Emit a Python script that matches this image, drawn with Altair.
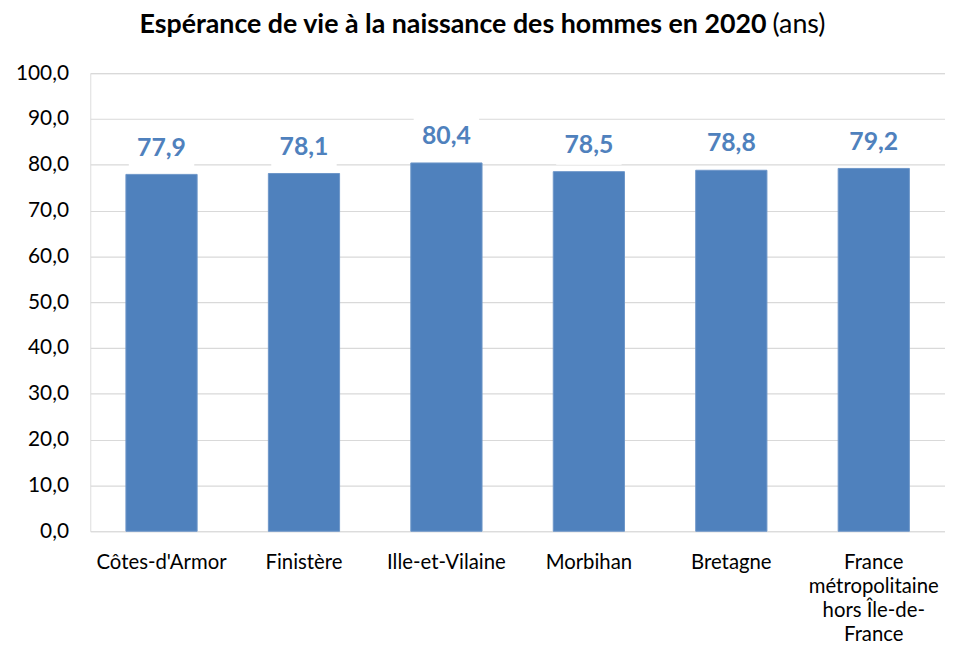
import altair as alt
import pandas as pd

categories = ["Côtes-d'Armor", "Finistère", "Ille-et-Vilaine", "Morbihan", "Bretagne",
              "France métropolitaine hors Île-de-France"]
values = [77.9, 78.1, 80.4, 78.5, 78.8, 79.2]
y_ticks = [0, 10, 20, 30, 40, 50, 60, 70, 80, 90, 100]
title_main = "Espérance de vie à la naissance des hommes en 2020"
title_unit = "(ans)"

df = pd.DataFrame({"cat": categories, "val": values})

FONT = "Lato"
BLUE = "#4F81BD"
W, H = 862, 462

last_lines = "['France','métropolitaine','hors Île-de-','France']"
label_expr = (f"datum.value == '{categories[-1]}' ? {last_lines} : datum.value")

x_enc = alt.X("cat:N", sort=categories, title=None,
              scale=alt.Scale(paddingInner=0.5, paddingOuter=0.25),
              axis=alt.Axis(labelAngle=0, labelFont=FONT, labelFontSize=20.5,
                            labelColor="#000000", labelPadding=22, labelLineHeight=24,
                            labelExpr=label_expr, ticks=False, domain=False,
                            grid=False, labelLimit=200))
y_enc = alt.Y("val:Q", title=None,
              scale=alt.Scale(domain=[0, 100], nice=False),
              axis=alt.Axis(values=y_ticks, labelFont=FONT, labelFontSize=21,
                            labelColor="#000000", labelPadding=22, ticks=False,
                            domain=False, gridColor="#D9D9D9", gridWidth=1.2,
                            labelExpr="replace(format(datum.value, '.1f'), '.', ',')"))

base = alt.Chart(df).encode(x=x_enc, y=y_enc)

bars = base.mark_bar(color=BLUE, stroke="#6D96C8", strokeWidth=1)

boxes = base.mark_tick(color="white", size=66, thickness=40, opacity=1,
                       yOffset=-27, orient="horizontal")

labels = base.transform_calculate(
    lbl="replace(format(datum.val, '.1f'), '.', ',')"
).mark_text(font=FONT, fontSize=25, fontWeight="bold", color=BLUE,
            baseline="middle", dy=-27).encode(text="lbl:N")

t1 = alt.Chart(pd.DataFrame({"t": [title_main]})).mark_text(
    font=FONT, fontSize=27, fontWeight="bold", color="#000000",
    align="right", baseline="middle").encode(
    text="t:N", x=alt.value(682), y=alt.value(-49))
t2 = alt.Chart(pd.DataFrame({"t": [title_unit]})).mark_text(
    font=FONT, fontSize=27, fontWeight="normal", color="#000000",
    align="left", baseline="middle").encode(
    text="t:N", x=alt.value(688), y=alt.value(-49))

chart = alt.layer(bars, boxes, labels, t1, t2).properties(
    width=W, height=H,
    autosize=alt.AutoSizeParams(type="none"),
    padding={"left": 83, "top": 63, "right": 0, "bottom": 112},
).configure_view(stroke=None).configure(background="white")

chart.save("out.html", embed_options={"renderer": "svg", "actions": False})
